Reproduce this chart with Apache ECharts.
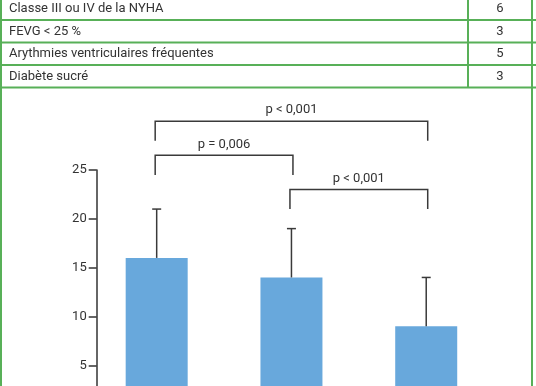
<!DOCTYPE html>
<html>
<head>
<meta charset="utf-8">
<script src="https://cdn.jsdelivr.net/npm/echarts@6/dist/echarts.min.js"></script>
<style>
html,body{margin:0;padding:0;background:#fff;}
#c{width:536px;height:386px;}
</style>
</head>
<body>
<div id="c"></div>
<script>
// Table rows
const tableLabels = ['Classe III ou IV de la NYHA', 'FEVG < 25 %', 'Arythmies ventriculaires fréquentes', 'Diabète sucré'];
const tableValues = ['6', '3', '5', '3'];

// Bar chart
const categories = ['A', 'B', 'C'];
const means = [16, 14, 9];
const upperErr = [21, 19, 14];
const yTicks = [5, 10, 15, 20, 25];

// Significance brackets: [fromIndex, toIndex, level]
const bracketFrom = [0, 0, 1];
const bracketTo = [2, 1, 2];
const bracketLevel = [30, 26.5, 23];
const bracketLabels = ['p < 0,001', 'p = 0,006', 'p < 0,001'];

const GREEN = '#58b058';
const DARK = '#333333';
const FONT = 'Roboto';

const chart = echarts.init(document.getElementById('c'), null, {renderer: 'canvas'});

const graphics = [];
const rowTop = -2.5, rowH = 22.5;
for (let i = 0; i < tableLabels.length; i++) {
  const cy = rowTop + rowH * i + rowH / 2;
  graphics.push({type: 'text', x: 9, y: cy, style: {text: tableLabels[i], font: '13px ' + FONT, fill: DARK, align: 'left', verticalAlign: 'middle'}, z: 10});
  graphics.push({type: 'text', x: 500, y: cy, style: {text: tableValues[i], font: '13px ' + FONT, fill: DARK, align: 'center', verticalAlign: 'middle'}, z: 10});
  const ly = rowTop + rowH * (i + 1);
  graphics.push({type: 'line', shape: {x1: 0, y1: ly, x2: 536, y2: ly}, style: {stroke: GREEN, lineWidth: 2}, z: 10});
}
// verticals
graphics.push({type: 'line', shape: {x1: 1, y1: 0, x2: 1, y2: 386}, style: {stroke: GREEN, lineWidth: 2}, z: 10});
graphics.push({type: 'line', shape: {x1: 532, y1: 0, x2: 532, y2: 386}, style: {stroke: GREEN, lineWidth: 2}, z: 10});
graphics.push({type: 'line', shape: {x1: 468, y1: 0, x2: 468, y2: 88}, style: {stroke: GREEN, lineWidth: 2}, z: 10});

const option = {
  backgroundColor: '#fff',
  animation: false,
  graphic: graphics,
  grid: {left: 89.3, top: 170, width: 404.3, height: 244.2, containLabel: false, outerBoundsMode: 'none'},
  xAxis: {
    type: 'category', data: categories,
    axisLine: {show: false}, axisTick: {show: false}, axisLabel: {show: false}, splitLine: {show: false}
  },
  yAxis: {
    type: 'value', min: 0, max: 25, interval: 5, offset: -7.4,
    axisLine: {show: true, lineStyle: {color: DARK, width: 1.5}},
    axisTick: {show: true, length: 8, lineStyle: {color: DARK, width: 1.5}},
    axisLabel: {show: true, margin: 10, color: DARK, fontFamily: FONT, fontSize: 13,
      formatter: v => yTicks.indexOf(v) >= 0 ? String(v) : ''},
    splitLine: {show: false}
  },
  series: [
    {
      type: 'bar', data: means, barWidth: 62,
      itemStyle: {color: '#68a8dc'}, z: 2
    },
    {
      type: 'custom', clip: false, z: 3,
      data: categories.map((c, i) => [i, means[i], upperErr[i]]),
      renderItem: function (params, api) {
        const b = api.coord([api.value(0), api.value(1)]);
        const t = api.coord([api.value(0), api.value(2)]);
        const st = {stroke: '#3a3a3a', lineWidth: 1.5};
        return {type: 'group', children: [
          {type: 'line', shape: {x1: b[0], y1: b[1], x2: t[0], y2: t[1]}, style: st},
          {type: 'line', shape: {x1: t[0] - 4.5, y1: t[1], x2: t[0] + 4.5, y2: t[1]}, style: st}
        ]};
      }
    },
    {
      type: 'custom', clip: false, z: 3,
      data: bracketLevel.map((lv, i) => [bracketFrom[i], bracketTo[i], lv]),
      renderItem: function (params, api) {
        const i = params.dataIndex;
        const lv = api.value(2);
        const a = api.coord([api.value(0), lv]);
        const b = api.coord([api.value(1), lv]);
        const a2 = api.coord([api.value(0), lv - 2]);
        const st = {stroke: '#3a3a3a', lineWidth: 1.5, fill: null};
        return {type: 'group', children: [
          {type: 'polyline', shape: {points: [[a[0] - 1.5, a2[1]], [a[0] - 1.5, a[1]], [b[0] + 1.5, b[1]], [b[0] + 1.5, a2[1]]]}, style: st},
          {type: 'text', x: (a[0] + b[0]) / 2, y: a[1] - 11, style: {text: bracketLabels[i], font: '13px ' + FONT, fill: DARK, align: 'center', verticalAlign: 'middle'}}
        ]};
      }
    }
  ]
};
chart.setOption(option);
</script>
</body>
</html>
